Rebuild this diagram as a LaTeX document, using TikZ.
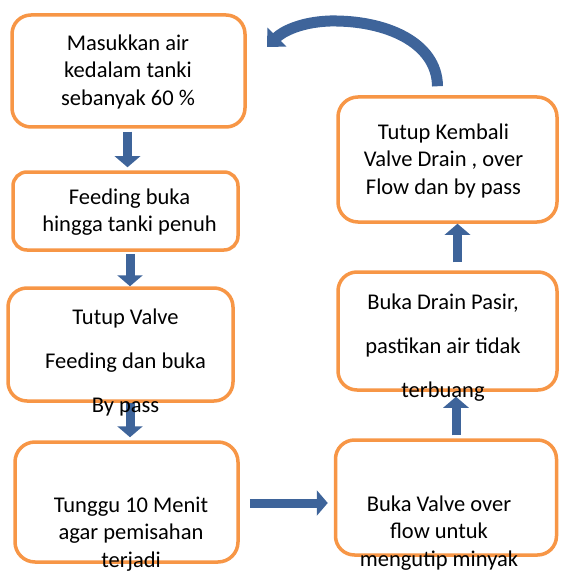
\documentclass[tikz,border=0pt]{standalone}
\usepackage{fontspec}
\setmainfont{Carlito}
\usetikzlibrary{arrows.meta}
\definecolor{boxorange}{RGB}{247,150,70}
\definecolor{arrowblue}{RGB}{62,100,154}
\begin{document}
\begin{tikzpicture}[x=1pt,y=-1pt,
  stepbox/.style={draw=boxorange,line width=3.5pt,fill=white,rectangle,inner sep=0pt},
  steptext/.style={inner sep=0pt,align=center,font=\fontsize{22.5}{27.5}\selectfont},
  widetext/.style={inner sep=0pt,align=center,font=\fontsize{22.5}{44}\selectfont},
  blockarrow/.style={draw=arrowblue,line width=9pt,-{Triangle[width=25pt,length=11pt]}},
  bendarrow/.style={draw=arrowblue,line width=11pt,-{Triangle[width=26pt,length=14pt]}}]
\useasboundingbox (0,0) rectangle (560,572);
% boxes
\node[stepbox,minimum width=233pt,minimum height=112pt,rounded corners=19pt] (b1) at (128.5,71) {};
\node[stepbox,minimum width=225pt,minimum height=78pt,rounded corners=14pt] (b2) at (125.5,211) {};
\node[stepbox,minimum width=225pt,minimum height=113pt,rounded corners=19pt] (b3) at (120.5,344.5) {};
\node[stepbox,minimum width=223pt,minimum height=120pt,rounded corners=20pt] (b4) at (126.5,502) {};
\node[stepbox,minimum width=221pt,minimum height=115pt,rounded corners=19pt] (b5) at (446,497.5) {};
\node[stepbox,minimum width=219pt,minimum height=118pt,rounded corners=19pt] (b6) at (447.5,331) {};
\node[stepbox,minimum width=219pt,minimum height=125pt,rounded corners=20pt] (b7) at (447.5,159.5) {};
% arrow anchors
\coordinate (a12) at ([xshift=-1pt]b1.south);
\coordinate (a23) at ([xshift=4.5pt]b2.south);
\coordinate (a34) at ([xshift=9.5pt]b3.south);
\coordinate (a45) at ([yshift=-1pt]b4.east);
\coordinate (a56) at ([xshift=10pt]b5.north);
\coordinate (a67) at ([xshift=10pt]b6.north);
\coordinate (ctail) at ([xshift=-10pt,yshift=9pt]b7.north);
\coordinate (chead) at (267,47);
% arrows
\draw[blockarrow,shorten <=3pt,shorten >=3pt] (a12) -- (a12 |- b2.north);
\draw[blockarrow,shorten <=2pt,shorten >=0pt] (a23) -- (a23 |- b3.north);
\draw[blockarrow,shorten <=0pt,shorten >=3pt] (a34) -- (a34 |- b4.north);
\draw[blockarrow,shorten <=10pt,shorten >=6pt] (a45) -- (a45 -| b5.west);
\draw[blockarrow,shorten <=3pt,shorten >=5pt] (a56) -- (a56 |- b6.south);
\draw[blockarrow,shorten <=8pt,shorten >=0pt] (a67) -- (a67 |- b7.south);
\draw[bendarrow] (ctail) .. controls (437,42) and (385,20) .. (330,21)
  .. controls (300,22) and (282,32) .. (chead);
% texts
\node[steptext] (t1) at (128,72) {Masukkan air\\kedalam tanki\\sebanyak 60 \%};
\node[steptext] (t2) at (129.5,212) {Feeding buka\\hingga tanki penuh};
\node[widetext] (t3) at (125.5,362) {Tutup Valve\\Feeding dan buka\\By pass};
\node[steptext] (t4) at (131,534) {Tunggu 10 Menit\\agar pemisahan\\terjadi};
\node[steptext] (t5) at (439,533) {Buka Valve over\\flow untuk\\mengutip minyak};
\node[widetext] (t6) at (443,348) {Buka Drain Pasir,\\pastikan air tidak\\terbuang};
\node[steptext] (t7) at (443.5,161) {Tutup Kembali\\Valve Drain , over\\Flow dan by pass};
\end{tikzpicture}
\end{document}
